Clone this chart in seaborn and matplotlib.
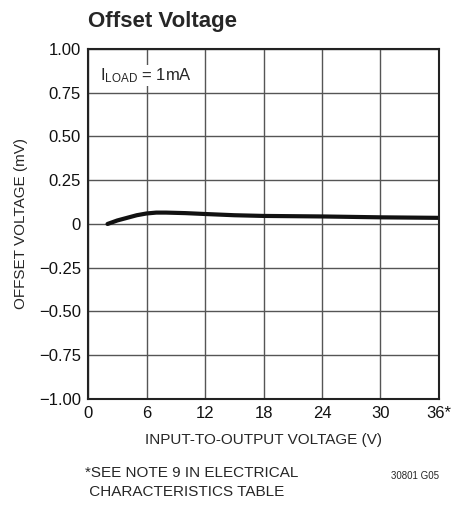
import matplotlib
matplotlib.use("Agg")
import matplotlib.pyplot as plt
import seaborn as sns
import pandas as pd

# data
vin = [2, 3, 4, 5, 6, 7, 8, 10, 12, 15, 18, 24, 30, 36]
vos = [0.0, 0.02, 0.035, 0.05, 0.06, 0.065, 0.065, 0.062, 0.057, 0.05, 0.046, 0.043, 0.038, 0.035]
xticks = [0, 6, 12, 18, 24, 30, 36]
xlabels = ["0", "6", "12", "18", "24", "30", "36*"]
yticks = [-1.0, -0.75, -0.5, -0.25, 0, 0.25, 0.5, 0.75, 1.0]
ylabels = ["\u22121.00", "\u22120.75", "\u22120.50", "\u22120.25", "0", "0.25", "0.50", "0.75", "1.00"]

sns.set_style("white")
plt.rcParams['font.family'] = ['Liberation Sans', 'DejaVu Sans']
plt.rcParams['mathtext.fontset'] = 'custom'
plt.rcParams['mathtext.rm'] = 'Liberation Sans'
plt.rcParams['mathtext.it'] = 'Liberation Sans'

df = pd.DataFrame({"vin": vin, "vos": vos})

fig = plt.figure(figsize=(4.57, 5.08), dpi=100)
ax = fig.add_axes([0.1926, 0.2146, 0.768, 0.689])

sns.lineplot(data=df, x="vin", y="vos", color="#111111", linewidth=3, ax=ax)

ax.set_xlim(0, 36)
ax.set_ylim(-1, 1)
ax.set_xticks(xticks)
ax.set_xticklabels(xlabels)
ax.set_yticks(yticks)
ax.set_yticklabels(ylabels)
ax.tick_params(labelsize=12, length=0, pad=5, colors="#111111")
ax.grid(True, color="#555555", linewidth=1)
for s in ax.spines.values():
    s.set_color("#222222")
    s.set_linewidth(1.5)

ax.set_xlabel("INPUT-TO-OUTPUT VOLTAGE (V)", fontsize=11, labelpad=9)
ax.set_ylabel("OFFSET VOLTAGE (mV)", fontsize=11, labelpad=8)

ax.text(1.2, 0.85, r"I$_{\mathrm{LOAD}}$ = 1mA", fontsize=12, va="center",
        bbox=dict(facecolor="white", edgecolor="none", pad=1))

fig.text(0.1926, 0.958, "Offset Voltage", fontsize=16, fontweight="bold", va="center")
fig.text(0.186, 0.050, "*SEE NOTE 9 IN ELECTRICAL\n CHARACTERISTICS TABLE", fontsize=11,
         va="center", linespacing=1.45)
fig.text(0.96, 0.063, "30801 G05", fontsize=7, ha="right", va="center")

fig.savefig("out.png", dpi=100)
